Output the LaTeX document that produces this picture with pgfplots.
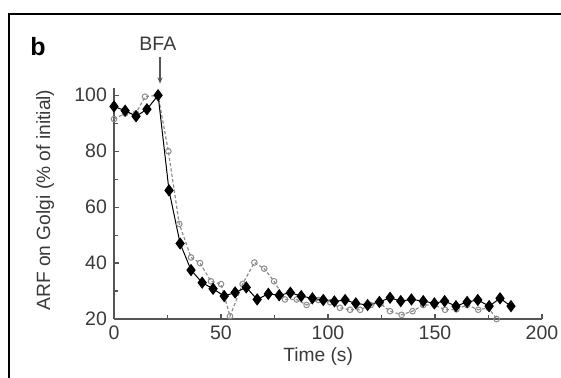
\documentclass[border=0pt]{standalone}
\usepackage{pgfplots}
\pgfplotsset{compat=1.18}
\usetikzlibrary{arrows.meta}
\usepackage{fontspec}
\setmainfont{Liberation Sans}
\definecolor{axgray}{HTML}{555555}
\definecolor{txtgray}{HTML}{3A3A3A}
\definecolor{dgray}{HTML}{8C8C8C}
\begin{document}
\begin{tikzpicture}
\useasboundingbox (-57pt,-29pt) rectangle (223.5pt,159.5pt);
\draw[black, line width=1.3pt] (-52.5pt,-30pt) -- (-52.5pt,152.5pt) -- (224pt,152.5pt);
\begin{axis}[
  at={(0,0)}, anchor=south west,
  scale only axis, width=214pt, height=115.5pt,
  xmin=0, xmax=200, ymin=20, ymax=102.6,
  axis lines=left,
  axis line style={-, draw=axgray, line width=0.9pt},
  every outer x axis line/.append style={-},
  every outer y axis line/.append style={-},
  xtick={0,50,...,200}, minor xtick={25,75,125,175},
  ytick={20,40,...,100}, minor ytick={30,50,70,90},
  tick align=inside, major tick length=2.5pt, minor tick length=2pt,
  tick style={axgray, line width=0.6pt},
  /pgf/number format/assume math mode=true,
  ticklabel style={font=\fontsize{9.75}{11}\selectfont, text=txtgray},
  xlabel={Time (s)}, ylabel={ARF on Golgi (\% of initial)},
  label style={font=\fontsize{9.6}{11}\selectfont, text=txtgray},
  xlabel style={at={(axis description cs:0.477,-0.162)}, anchor=center},
  ylabel style={at={(axis description cs:-0.161,0.515)}, anchor=center},
  clip=false,
]
\addplot[dgray, line width=0.6pt, dash pattern=on 1.6pt off 1.1pt, mark=o, mark size=1.4pt, mark options={solid, line width=0.5pt}] coordinates {
(0,91.5) (5.2,93.5) (10.2,93.5) (14.5,99.5) (20.6,100) (25.4,80) (30.5,54) (36,42)
(40.2,40) (45.3,33.5) (50,32.5) (54.2,21) (60.1,32.5) (65.6,40.2) (70.2,38) (74.8,33.5)
(79.9,27) (85.4,27) (90,25) (95.5,26.8) (101,26) (105.6,24) (110.3,23.3) (115,23.3)
(120,25) (124.5,25.5) (129,22.8) (134.4,21.5) (139.5,22.8) (144.5,25) (149.7,25)
(154.7,23.3) (160,23.5) (165,25) (170.2,23.3) (175,24) (178.8,20)
};
\addplot[black, line width=0.5pt, mark=diamond*, mark size=2.7pt] coordinates {
(0,96) (5.2,94.5) (10.3,92.5) (15.4,95) (20.6,100) (25.7,66) (30.9,47) (36,37.5)
(41.2,33) (46.3,30.8) (51.5,28.2) (56.6,29.5) (61.8,31.3) (66.9,27) (72.1,29) (77.2,28.5)
(82.4,29.4) (87.5,28.2) (92.7,27.4) (97.8,26.8) (103,26.3) (108,26.8) (113,25.6)
(118.5,25) (124,26.1) (129,27.6) (134,26.4) (139,27) (144.5,26.4) (149.7,25.6)
(154.5,26.4) (159.8,24.6) (165,26.1) (170,26.8) (175.3,24.6) (180.4,27.4) (185.5,24.6)
};
\draw[-{Stealth[length=3pt,width=2.5pt]}, axgray, line width=0.6pt] (axis cs:21.5,113.7) -- (axis cs:21.5,104.2);
\node[font=\fontsize{9.75}{11}\selectfont, text=txtgray] at (axis cs:20.5,118.3) {BFA};
\end{axis}
\node[font=\fontsize{12.5}{14}\selectfont\bfseries] at (-38pt,136pt) {b};
\end{tikzpicture}
\end{document}
